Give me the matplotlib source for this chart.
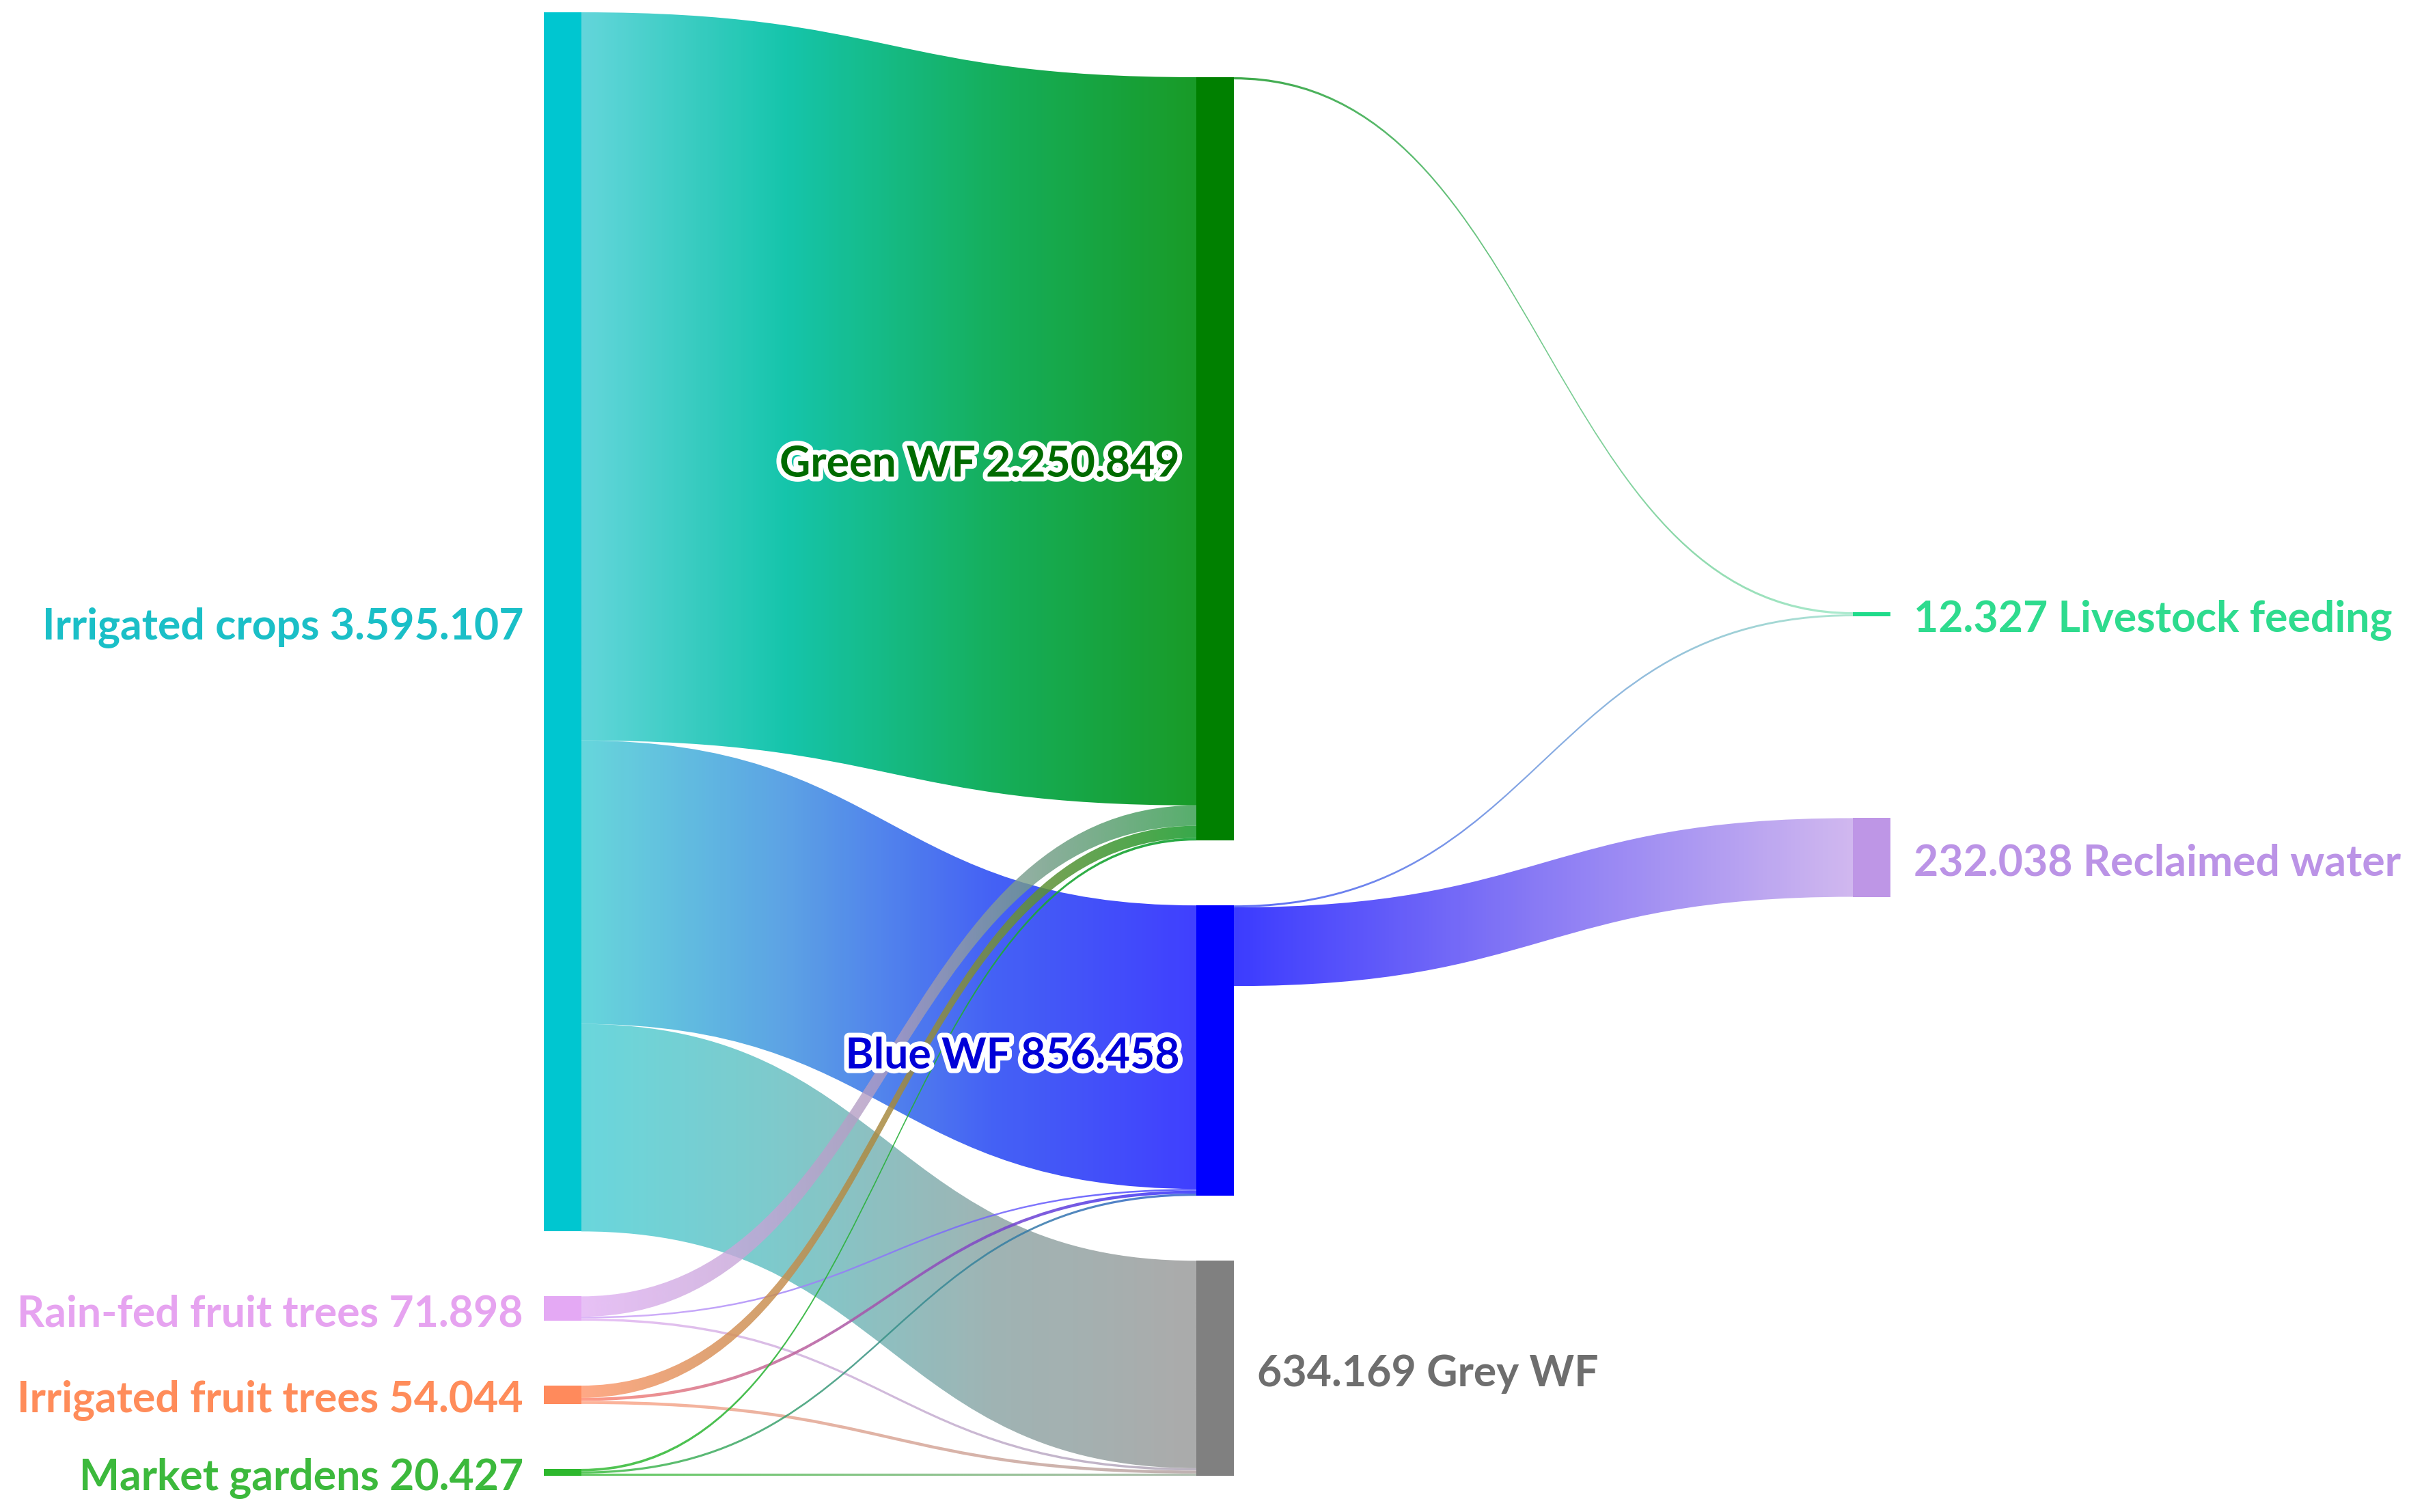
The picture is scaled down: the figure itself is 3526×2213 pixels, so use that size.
import numpy as np
import matplotlib
matplotlib.use("Agg")
import matplotlib.pyplot as plt
import matplotlib.patheffects as pe
from matplotlib.colors import to_rgba
from matplotlib.patches import PathPatch, Rectangle
from matplotlib.path import Path

# --- data -------------------------------------------------------------------
NODE_NAMES = [
    "Irrigated crops", "Rain-fed fruit trees", "Irrigated fruit trees",
    "Market gardens", "Green WF", "Blue WF", "Grey WF",
    "Livestock feeding", "Reclaimed water",
]
NODE_COLUMN = [0, 0, 0, 0, 1, 1, 1, 2, 2]
# "name value" or "value name"
LABEL_VALUE_FIRST = [False, False, False, False, False, False, True, True, True]

LINK_SOURCE = [0, 0, 0, 1, 1, 1, 2, 2, 2, 3, 3, 3, 4, 5, 5]
LINK_TARGET = [4, 5, 6, 4, 5, 6, 4, 5, 6, 4, 5, 6, 7, 7, 8]
LINK_VALUE = [
    2_147_349, 835_958, 611_800,
    60_000, 5_000, 6_898,
    36_000, 9_000, 9_044,
    7_500, 6_500, 6_427,
    6_500, 5_827, 232_038,
]

# --- style ------------------------------------------------------------------
NODE_COLORS = ["#00C6D0", "#E4A9F4", "#FF8A5C", "#2DB82D",
               "#008000", "#0000FF", "#808080", "#1FDB8A", "#BE96E6"]
LABEL_COLORS = ["#1ABFC7", "#E6A3F0", "#FF8C5A", "#3CB93C",
                "#006A00", "#0000D8", "#6E6E6E", "#2EDB8E", "#BB93E6"]
LINK_STOPS = [
    ["#55D2D8", "#00C0A4", "#00A84E", "#049214"],
    ["#55D2D8", "#4A98E2", "#3050F4", "#2A2AFF"],
    ["#55D2D8", "#6EC2C4", "#92AAAA", "#A0A0A0"],
    ["#E2B2F4", "#B09CC0", "#2E9A48"],
    ["#D6AAF6", "#4040FF"],
    ["#E2B2F4", "#A9A0B0"],
    ["#FF9A70", "#A88A40", "#159A2A"],
    ["#FF8A70", "#A050B0", "#3030FF"],
    ["#FFA080", "#B0A0A0"],
    ["#40C040", "#10A030"],
    ["#40C040", "#3060D0"],
    ["#40C040", "#A0B0A0"],
    ["#1A9A2A", "#9EE8C8"],
    ["#4050F4", "#A0E4C8"],
    ["#2A2AFF", "#8070F4", "#CDB2EE"],
]
LINK_ALPHA = [0.92, 0.9, 0.88, 0.8, 0.85, 0.8, 0.85, 0.85, 0.8,
              0.9, 0.85, 0.8, 0.85, 0.85, 0.92]

W, H = 3526, 2213
COL_X = [796, 1751, 2712]
NODE_W = 55
GAP = 95
COL_BOTTOM = 2160
COL2_CENTER = {7: 899, 8: 1255}
FONT = ["Lato", "DejaVu Sans"]
FS = 45
TEXT_DY = 8


def fmt(v):
    return f"{v:,}".replace(",", ".")


def gradient(stops, alpha, n=256):
    cols = np.array([to_rgba(c) for c in stops])
    pos = np.linspace(0, 1, len(stops))
    t = np.linspace(0, 1, n)
    rgba = np.stack([np.interp(t, pos, cols[:, i]) for i in range(4)], axis=-1)
    rgba[:, 3] = alpha
    return rgba[np.newaxis, :, :]


n_nodes = len(NODE_NAMES)
inflow = np.zeros(n_nodes)
outflow = np.zeros(n_nodes)
for s, t, v in zip(LINK_SOURCE, LINK_TARGET, LINK_VALUE):
    outflow[s] += v
    inflow[t] += v
node_val = np.maximum(inflow, outflow)

col0 = [i for i in range(n_nodes) if NODE_COLUMN[i] == 0]
K = (COL_BOTTOM - 18 - GAP * (len(col0) - 1)) / node_val[col0].sum()
node_h = node_val * K

node_top = np.zeros(n_nodes)
for c in (0, 1):
    ids = [i for i in range(n_nodes) if NODE_COLUMN[i] == c]
    y = COL_BOTTOM - node_h[ids].sum() - GAP * (len(ids) - 1)
    for i in ids:
        node_top[i] = y
        y += node_h[i] + GAP
for i, yc in COL2_CENTER.items():
    node_top[i] = yc - node_h[i] / 2

# stack link ends at each node (ordered by the position of the other end)
n_links = len(LINK_VALUE)
src_y = np.zeros(n_links)
dst_y = np.zeros(n_links)
for i in range(n_nodes):
    outs = sorted([k for k in range(n_links) if LINK_SOURCE[k] == i],
                  key=lambda k: node_top[LINK_TARGET[k]])
    y = node_top[i]
    for k in outs:
        src_y[k] = y
        y += LINK_VALUE[k] * K
    ins = sorted([k for k in range(n_links) if LINK_TARGET[k] == i],
                 key=lambda k: node_top[LINK_SOURCE[k]])
    y = node_top[i]
    for k in ins:
        dst_y[k] = y
        y += LINK_VALUE[k] * K

fig = plt.figure(figsize=(W / 100, H / 100), dpi=100)
ax = fig.add_axes([0, 0, 1, 1])
ax.axis("off")

for k in range(n_links):
    s, t, v = LINK_SOURCE[k], LINK_TARGET[k], LINK_VALUE[k]
    x0 = COL_X[NODE_COLUMN[s]] + NODE_W
    x1 = COL_X[NODE_COLUMN[t]]
    xm = (x0 + x1) / 2
    h = v * K
    st, sb = src_y[k], src_y[k] + h
    tt, tb = dst_y[k], dst_y[k] + h
    verts = [(x0, st), (xm, st), (xm, tt), (x1, tt), (x1, tb),
             (xm, tb), (xm, sb), (x0, sb), (x0, st)]
    codes = [Path.MOVETO, Path.CURVE4, Path.CURVE4, Path.CURVE4, Path.LINETO,
             Path.CURVE4, Path.CURVE4, Path.CURVE4, Path.CLOSEPOLY]
    patch = PathPatch(Path(verts, codes), facecolor="none", edgecolor="none")
    ax.add_patch(patch)
    im = ax.imshow(gradient(LINK_STOPS[k], LINK_ALPHA[k]),
                   extent=(x0, x1, max(sb, tb), min(st, tt)),
                   aspect="auto", interpolation="bilinear")
    im.set_clip_path(patch)

for i in range(n_nodes):
    x = COL_X[NODE_COLUMN[i]]
    ax.add_patch(Rectangle((x, node_top[i]), NODE_W, max(node_h[i], 4),
                           facecolor=NODE_COLORS[i], edgecolor="none"))
    val = fmt(int(node_val[i]))
    yc = node_top[i] + node_h[i] / 2 + TEXT_DY
    if NODE_COLUMN[i] == 0:
        ax.text(x - 30, yc, f"{NODE_NAMES[i]} {val}", ha="right", va="center",
                fontsize=FS, fontweight="bold", color=LABEL_COLORS[i],
                family=FONT)
    elif LABEL_VALUE_FIRST[i]:
        ax.text(x + NODE_W + 34, yc, f"{val} {NODE_NAMES[i]}", ha="left",
                va="center", fontsize=FS, fontweight="bold",
                color=LABEL_COLORS[i], family=FONT)
    else:
        ax.text(x - 24, yc, f"{NODE_NAMES[i]} {val}", ha="right", va="center",
                fontsize=FS, fontweight="bold", color=LABEL_COLORS[i],
                family=FONT,
                path_effects=[pe.withStroke(linewidth=10, foreground="white")])

ax.set_xlim(0, W)
ax.set_ylim(H, 0)
fig.savefig("out.png", dpi=100, facecolor="white")
